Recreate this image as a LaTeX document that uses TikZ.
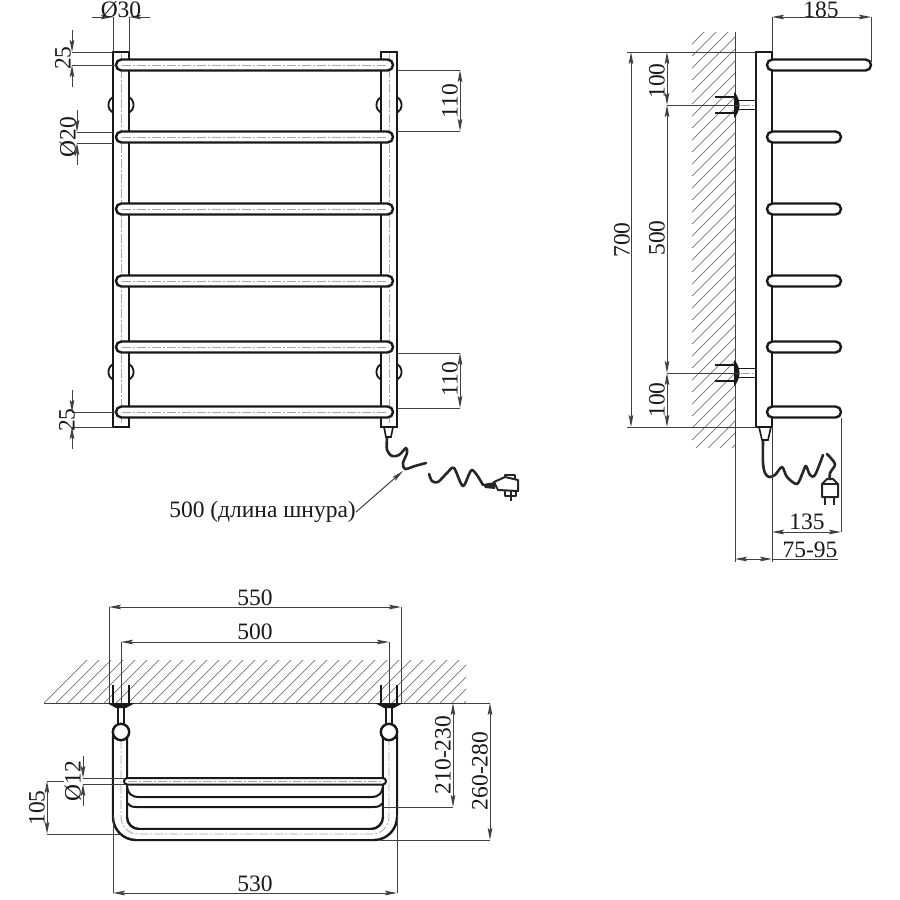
\documentclass[tikz,border=0pt]{standalone}
\usepackage{fontspec}
\setmainfont{Liberation Serif}
\usetikzlibrary{arrows.meta}

\begin{document}
\begin{tikzpicture}[x=1pt,y=-1pt,>={Stealth[length=12pt,width=4.6pt,inset=2pt]}]
        \tikzset{tube/.style={draw=black!90,line width=2.4pt,fill=white},
        wire/.style={draw=black!85,line width=2.6pt,line cap=round,line join=round},
        plugline/.style={draw=black!85,line width=2pt,line join=round},
        thinline/.style={draw=black!75,line width=1pt},
        axis/.style={draw=black!35,line width=0.8pt,dash pattern=on 9pt off 2pt on 2pt off 2pt},
        hatch/.style={draw=black!55,line width=0.7pt},
        dimtext/.style={font=\fontsize{23.5}{25}\selectfont,text=black!90,inner sep=0pt},
        vdimtext/.style={dimtext,rotate=90},
        }
        \useasboundingbox (0,0) rectangle (900,900);
        \fill[white] (0,0) rectangle (900,900);
%% wall hatching
        \begin{scope}
        \clip (692,32) rectangle (735,447);
        \foreach \h in {0,12,...,470} {\draw[hatch] (692,32+\h) -- (752,32+\h-60);}
        \end{scope}
        \begin{scope}
        \clip (44,660) rectangle (466,703);
        \foreach \h in {0,12,...,450} {\draw[hatch] (44+\h,703) -- (44+\h+50,653);}
        \end{scope}
        \draw[thinline] (735,32) -- (735,562);
        \draw[thinline] (44,703) -- (466,703);
%% front view
        \foreach \px in {121,389} {
            \foreach \my in {105,372} {
                \draw[draw=black!90,line width=1.8pt] (\px-8,\my-8) arc (240:120:9.2);
                \draw[draw=black!90,line width=1.8pt] (\px+8,\my-8) arc (-60:60:9.2);
            }
            \draw[tube] (\px-8,52) rectangle (\px+8,427);
            \draw[axis] (\px,54) -- (\px,425);
        }
        \foreach \y in {65,137,209,281,347,412} {
            \draw[tube,rounded corners=5.4pt] (116,\y-5.5) rectangle (393,\y+5.5);
            \draw[axis] (122,\y) -- (388,\y);
        }
%% front cord and plug
        \draw[tube,line width=1.6pt] (384,427) -- (393,427) -- (391,437) -- (386,437) -- cycle;
        \draw[wire] plot[smooth] coordinates {(387,438) (387,450) (392,456) (399,455) (406,448) (407,453) (403,463) (405,469) (415,466) (426,463)};
        \draw[wire] plot[smooth] coordinates {(429,474) (432,481) (438,482) (447,473) (454,468) (463,486) (472,470) (483,485)};
        \fill[black!85] (483,484) -- (495,482) -- (495,489) -- (485,488) -- cycle;
        \draw[plugline,fill=white] (494,482) -- (505,477) -- (518,480) -- (518,491) -- (498,490) -- cycle;
        \draw[plugline] (505,477) -- (505,475) -- (515,475) -- (515,480);
        \draw[plugline] (505,490) -- (505,496) -- (516,496) -- (516,491) (511,490) -- (511,501);
%% front dimensions
        \draw[thinline] (113,17) -- (113,52) (129,17) -- (129,52);
        \draw[thinline,->] (92,17) -- (113,17);
        \draw[thinline,->] (150,17) -- (129,17);
        \node[dimtext] (dia30) at (121,10) {Ø30};
        \draw[thinline] (72,52) -- (113,52) (72,65) -- (116,65);
        \draw[thinline,->] (72,30) -- (72,52);
        \draw[thinline,->] (72,87) -- (72,65);
        \node[vdimtext] (top25) at (63,58) {25};
        \draw[thinline] (77,132) -- (113,132) (77,143) -- (113,143);
        \draw[thinline,->] (77,110) -- (77,132);
        \draw[thinline,->] (77,165) -- (77,143);
        \node[vdimtext] (dia20) at (68,137) {Ø20};
        \draw[thinline] (72,412) -- (116,412) (72,427) -- (113,427);
        \draw[thinline,->] (72,390) -- (72,412);
        \draw[thinline,->] (72,449) -- (72,427);
        \node[vdimtext] (low25) at (67,420) {25};
        \draw[thinline] (397,70) -- (460,70) (397,131) -- (460,131);
        \draw[thinline,<->] (460,70) -- (460,131);
        \node[vdimtext] (top110) at (450,101) {110};
        \draw[thinline] (397,353) -- (460,353) (397,408) -- (460,408);
        \draw[thinline,<->] (460,353) -- (460,408);
        \node[vdimtext] (low110) at (450,379) {110};
        \node[dimtext,anchor=east] (cordlen) at (356,512) {500 (длина шнура)};
        \draw[thinline,->] (cordlen.east) -- (403,471);
%% side view
        \draw[tube] (756,52) rectangle (772,427);
        \foreach \y in {65,137,209,281,347,412} {
            \ifnum\y=65 \def\xend{871} \else \def\xend{841} \fi
            \draw[tube,rounded corners=5.4pt] (767,\y-5.5) rectangle (\xend,\y+5.5);
        }
        \foreach \my in {105,373} {
            \draw[draw=black!90,line width=1.6pt,fill=white] (738,\my-4.5) rectangle (756,\my+4.5);
            \draw[axis] (741,\my) -- (755,\my);
            \fill[black!90] (734,\my-13) .. controls (738,\my-10) and (739.5,\my-3) .. (739.5,\my) .. controls (739.5,\my+3) and (738,\my+10) .. (734,\my+13) -- cycle;
            \draw[draw=black!90,line width=1.7pt] (715,\my-8) -- (735,\my-8) (715,\my+8) -- (735,\my+8);
        }
%% side cord and plug
        \draw[tube,line width=1.6pt] (759,427) -- (771,427) -- (768,440) -- (762,440) -- cycle;
        \draw[wire] plot[smooth] coordinates {(763,441) (763,463) (765,473) (769,477) (775,475) (782,467) (787,477) (797,484) (803,472) (806,466) (810,475) (815,475) (823,455)};
        \draw[wire] plot[smooth] coordinates {(827,454) (835,464) (830,473) (830,480)};
        \draw[plugline,fill=white] (827,479) -- (833,479) -- (838,484) -- (838,497) -- (822,497) -- (822,484) -- cycle;
        \draw[plugline,line width=2.6pt] (825,497) -- (825,505) (834,497) -- (834,505);
        \draw[plugline] (822,484) -- (838,484);
%% side dimensions
        \draw[thinline] (627,52) -- (756,52) (627,427) -- (756,427);
        \draw[thinline] (667,105) -- (740,105) (667,373) -- (740,373);
        \draw[thinline,<->] (631,52) -- (631,427);
        \draw[thinline,<->] (667,52) -- (667,105);
        \draw[thinline,<->] (667,105) -- (667,373);
        \draw[thinline,<->] (667,373) -- (667,427);
        \node[vdimtext] (overall) at (622,240) {700};
        \node[vdimtext] (uptop) at (657,81) {100};
        \node[vdimtext] (between) at (657,238) {500};
        \node[vdimtext] (upbot) at (657,400) {100};
        \draw[thinline] (772,17) -- (772,52) (871,17) -- (871,62);
        \draw[thinline,<->] (772,17) -- (871,17);
        \node[dimtext] (reach) at (821,10) {185};
        \draw[thinline] (772,427) -- (772,562) (841,418) -- (841,532);
        \draw[thinline,<->] (772,532) -- (841,532);
        \node[dimtext] (depth) at (807,522) {135};
        \draw[thinline,<->] (735,559) -- (772,559);
        \draw[thinline] (772,559) -- (838,559);
        \node[dimtext] (gap) at (810,550) {75-95};
%% bottom view
        \draw[thinline] (109,607) -- (109,703) (401,607) -- (401,703);
        \draw[thinline] (121,642) -- (121,703) (389,642) -- (389,703);
        \draw[draw=black!90,line width=1.7pt] (113,685) -- (113,703) (129,685) -- (129,703)
                                               (381,685) -- (381,703) (397,685) -- (397,703);
        \foreach \px in {121,389} {
            \draw[draw=black!90,line width=1.6pt,fill=white] (\px-3,707) rectangle (\px+3,726);
            \fill[black!90] (\px-14,703) -- (\px+14,703) -- (\px+5,708) -- (\px-5,708) -- cycle;
        }
        \draw[tube] (113,735) -- (113,817) arc (180:90:23) -- (374,840) arc (90:0:23) -- (397,735);
        \draw[tube] (127,735) -- (127,817) arc (180:90:12) -- (371,829) arc (90:0:12) -- (383,735);
        \fill[white] (114.2,735) rectangle (125.8,817) (384.2,735) rectangle (395.8,817);
        \fill[white] (136,830.2) rectangle (374,838.8);
        \draw[axis] (121,740) -- (121,817) arc (180:90:17) -- (372,834) arc (90:0:17) -- (389,740);
        \draw[draw=black!90,line width=2pt] (127,787) .. controls (128,793) and (131,797) .. (139,797) -- (371,797) .. controls (379,797) and (382,793) .. (383,787);
        \draw[draw=black!90,line width=2pt] (127,803) .. controls (129,806) and (132,807) .. (137,807) -- (373,807) .. controls (378,807) and (381,806) .. (383,803);
        \draw[tube,line width=2pt,rounded corners=3.2pt] (124,778) rectangle (386,784.5);
        \draw[axis] (128,781) -- (382,781);
        \foreach \px in {121,389} {
            \draw[tube] (\px,732) circle (8.2);
        }
%% bottom dimensions
        \draw[thinline,<->] (109,607) -- (401,607);
        \node[dimtext] (width) at (255,598) {550};
        \draw[thinline,<->] (121,642) -- (389,642);
        \node[dimtext] (centres) at (255,632) {500};
        \draw[thinline] (113,815) -- (113,893) (397,815) -- (397,893);
        \draw[thinline,<->] (113,893) -- (397,893);
        \node[dimtext] (span) at (255,884) {530};
        \draw[thinline] (83,778) -- (125,778) (83,784) -- (125,784);
        \draw[thinline,->] (83,756) -- (83,778);
        \draw[thinline,->] (83,806) -- (83,784);
        \node[vdimtext] (dia12) at (73,781) {Ø12};
        \draw[thinline] (47,781) -- (64,781) (47,834) -- (121,834);
        \draw[thinline,<->] (47,781) -- (47,834);
        \node[vdimtext] (drop) at (37,808) {105};
        \draw[thinline] (383,807) -- (453,807) (466,703) -- (490,703) (380,840) -- (490,840);
        \draw[thinline,<->] (453,703) -- (453,807);
        \node[vdimtext] (short) at (443,755) {210-230};
        \draw[thinline,<->] (490,703) -- (490,840);
        \node[vdimtext] (long) at (480,771) {260-280};
\end{tikzpicture}
\end{document}
